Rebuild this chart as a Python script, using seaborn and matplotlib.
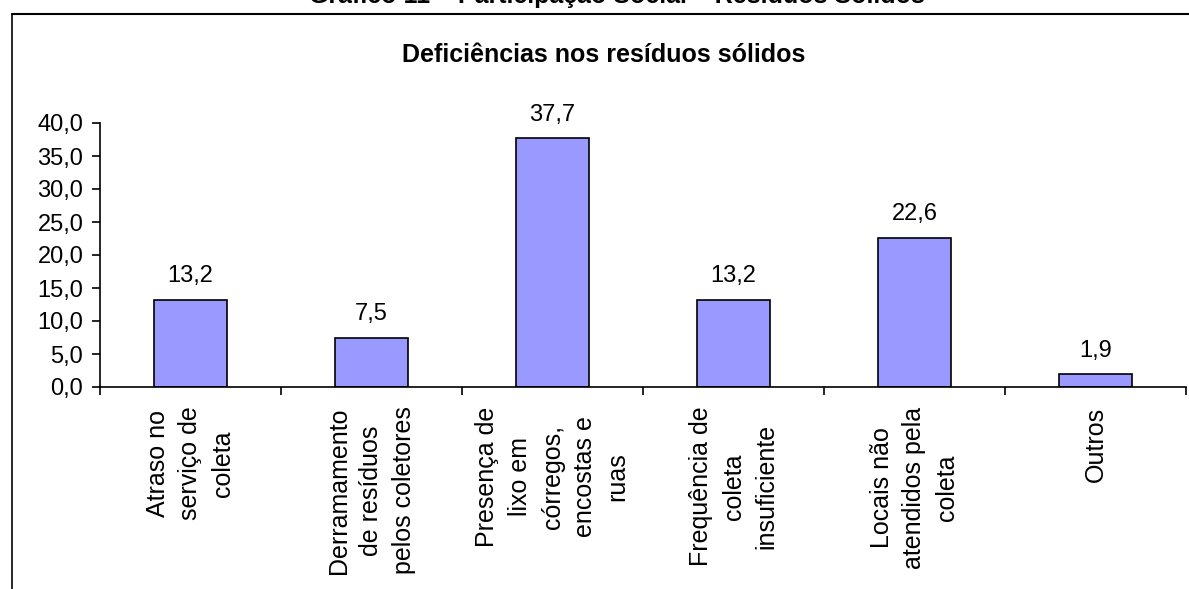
import numpy as np
import matplotlib
matplotlib.use("Agg")
import matplotlib.pyplot as plt
from matplotlib.lines import Line2D
from matplotlib.ticker import FuncFormatter
import seaborn as sns

# data
categorias = [
    "Atraso no\nserviço de\ncoleta",
    "Derramamento\nde resíduos\npelos coletores",
    "Presença de\nlixo em\ncórregos,\nencostas e\nruas",
    "Frequência de\ncoleta\ninsuficiente",
    "Locais não\natendidos pela\ncoleta",
    "Outros",
]
valores = [13.2, 7.5, 37.7, 13.2, 22.6, 1.9]
titulo = "Deficiências nos resíduos sólidos"
titulo_topo = "Gráfico 11 – Participação Social – Resíduos Sólidos"

sns.set_style("white")
plt.rcParams["font.family"] = ["Liberation Sans", "DejaVu Sans"]
plt.rcParams["text.color"] = "black"
plt.rcParams["xtick.color"] = "black"
plt.rcParams["ytick.color"] = "black"

W, H = 1189, 589
fig = plt.figure(figsize=(W / 100, H / 100), dpi=100)
ax = fig.add_axes([100 / W, (H - 387) / H, (1186 - 100) / W, 264 / H])

sns.barplot(x=categorias, y=valores, color="#9999FF", saturation=1,
            width=0.4, edgecolor="black", linewidth=1.2, ax=ax)

def fmt(v, pos=None):
    return f"{v:.1f}".replace(".", ",")

ax.set_ylim(0, 40)
ax.set_xlim(-0.5, len(categorias) - 0.5)
ax.set_yticks(np.arange(0, 41, 5))
ax.yaxis.set_major_formatter(FuncFormatter(fmt))
ax.tick_params(axis="y", direction="out", length=6, width=1.2, labelsize=17,
               left=True, pad=6, colors="black")

# tick marks between categories, labels under each bar
ax.set_xticks(np.arange(-0.5, len(categorias), 1))
ax.set_xticklabels([])
ax.set_xticks(range(len(categorias)), categorias, minor=True)
ax.tick_params(axis="x", which="major", direction="out", length=6, width=1.2,
               bottom=True, colors="black")
ax.tick_params(axis="x", which="minor", length=0, pad=14, labelsize=18,
               labelcolor="black")
for lab in ax.get_xticklabels(minor=True):
    lab.set_rotation(90)
    lab.set_va("top")
    lab.set_ha("center")
    lab.set_multialignment("center")
    lab.set_linespacing(1.45)

ax.set_xlabel("")
ax.set_ylabel("")
sns.despine(ax=ax)
for s in ["left", "bottom"]:
    ax.spines[s].set_color("black")
    ax.spines[s].set_linewidth(1.2)

for cont in ax.containers:
    ax.bar_label(cont, labels=[fmt(v) for v in valores], padding=9,
                 fontsize=17, color="black")

fig.text(604 / W, 1 - 55 / H, titulo, ha="center", va="center",
         fontsize=18, fontweight="bold", color="black")
fig.text(617 / W, 1 - 3 / H, titulo_topo, ha="center", va="baseline",
         fontsize=18, fontweight="bold", color="black")

# outer frame (cut at the right and bottom edges)
fig.add_artist(Line2D([12 / W, 1.0], [1 - 14 / H, 1 - 14 / H],
                      color="black", linewidth=1.5, transform=fig.transFigure))
fig.add_artist(Line2D([12 / W, 12 / W], [0.0, 1 - 14 / H],
                      color="black", linewidth=1.2, transform=fig.transFigure))

fig.savefig("out.png", dpi=100)
